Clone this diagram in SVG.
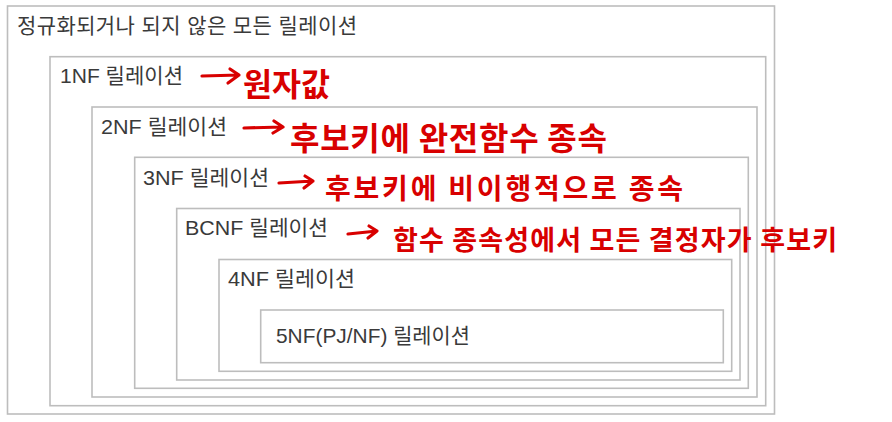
<svg xmlns="http://www.w3.org/2000/svg" width="892" height="422" viewBox="0 0 892 422">
<defs>
<style>
.box{fill:none;stroke:#bdbdbd;stroke-width:1.6}
.lbl{font-family:"Liberation Sans","Noto Sans CJK KR",sans-serif;font-size:21px;fill:#3a3a3a}
.note{font-family:"Noto Sans CJK KR",sans-serif;font-weight:700;fill:#d80000}
.arr{fill:none;stroke:#d80000;stroke-width:3.2;stroke-linecap:round;stroke-linejoin:round}
</style>
</defs>
<rect width="892" height="422" fill="#ffffff"/>
<g id="all">
<rect class="box" x="7.5" y="6" width="767" height="408"/>
<text class="lbl" x="17" y="32.5" textLength="340" lengthAdjust="spacing">정규화되거나 되지 않은 모든 릴레이션</text>
</g>
<g id="nf1">
<rect class="box" x="50" y="56.7" width="715.7" height="349"/>
<text class="lbl" x="60" y="83" textLength="123" lengthAdjust="spacingAndGlyphs">1NF 릴레이션</text>
</g>
<g id="nf2">
<rect class="box" x="92" y="107" width="665" height="290"/>
<text class="lbl" x="101" y="134" textLength="126" lengthAdjust="spacingAndGlyphs">2NF 릴레이션</text>
</g>
<g id="nf3">
<rect class="box" x="134.7" y="157.3" width="613.6" height="231"/>
<text class="lbl" x="143" y="185" textLength="126" lengthAdjust="spacingAndGlyphs">3NF 릴레이션</text>
</g>
<g id="bcnf">
<rect class="box" x="176.7" y="208.5" width="563.3" height="171.5"/>
<text class="lbl" x="185" y="235" textLength="143" lengthAdjust="spacingAndGlyphs">BCNF 릴레이션</text>
</g>
<g id="nf4">
<rect class="box" x="219" y="259.5" width="512.7" height="111.8"/>
<text class="lbl" x="228" y="286" textLength="127" lengthAdjust="spacingAndGlyphs">4NF 릴레이션</text>
</g>
<g id="nf5">
<rect class="box" x="260.7" y="310" width="462.6" height="52.7"/>
<text class="lbl" x="276" y="343" textLength="194" lengthAdjust="spacingAndGlyphs">5NF(PJ/NF) 릴레이션</text>
</g>
<g id="connectors">
<path class="arr" d="M202 76 L239 75 M230 69 L239 75 L228 83"/>
<path class="arr" d="M244 128 L283 127 M274 121 L283 127 L273 133"/>
<path class="arr" d="M279 183 L313 181 M305 176 L313 181 L304 188"/>
<path class="arr" d="M348 234 L377 231 M369 226 L377 231 L368 238"/>
</g>
<g id="notes">
<text class="note" x="243" y="96" font-size="32" textLength="87" lengthAdjust="spacingAndGlyphs">원자값</text>
<text class="note" x="290" y="150" font-size="32" textLength="317" lengthAdjust="spacing">후보키에 완전함수 종속</text>
<text class="note" x="325" y="199" font-size="28" textLength="358" lengthAdjust="spacing">후보키에 비이행적으로 종속</text>
<text class="note" x="393" y="250" font-size="27" textLength="444" lengthAdjust="spacing">함수 종속성에서 모든 결정자가 후보키</text>
</g>
</svg>
